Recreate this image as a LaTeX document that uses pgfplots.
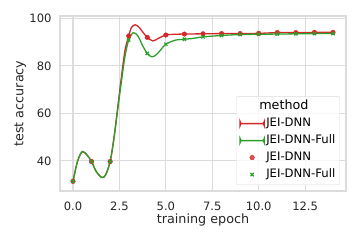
\documentclass[border=0pt]{standalone}
\usepackage{pgfplots}
\pgfplotsset{compat=1.18}
\usepackage{fontspec}
\setmainfont{DejaVu Sans}
\definecolor{tred}{HTML}{D62728}
\definecolor{tgreen}{HTML}{2CA02C}
\definecolor{gridc}{HTML}{DCDCDC}
\definecolor{txt}{HTML}{262626}
\pgfplotsset{
  marklegend/.style={legend image code/.code={\draw[mark repeat=2,mark phase=2,##1] plot coordinates {(0bp,0bp)(12bp,0bp)(24bp,0bp)};}},
}
\begin{document}
\begin{tikzpicture}
\path[use as bounding box] (-60bp,-49bp) rectangle (300bp,191bp);
\begin{axis}[
  at={(0,0)}, anchor=south west,
  scale only axis, width=286bp, height=175bp,
  xmin=-0.7, xmax=14.7, ymin=27.3, ymax=101,
  xtick={0,2.5,5,7.5,10,12.5},
  xticklabels={0.0,2.5,5.0,7.5,10.0,12.5},
  ytick={40,60,80,100},
  grid=major,
  major grid style={draw=gridc, line width=1.1bp},
  axis line style={draw=gridc, line width=1.1bp},
  major tick length=0pt,
  tick style={draw=none},
  /pgf/number format/assume math mode=true,
  ticklabel style={text=txt, font=\fontsize{11.6}{13}\selectfont, inner sep=0pt},
  xticklabel style={anchor=north, yshift=-10.7bp},
  yticklabel style={anchor=east, xshift=-8.3bp},
  xlabel={training epoch}, ylabel={test accuracy},
  every axis x label/.style={at={(axis description cs:0.5,0)}, anchor=base, yshift=-32.3bp, text=txt, font=\fontsize{12.8}{14}\selectfont},
  every axis y label/.style={at={(axis description cs:0,0.5)}, xshift=-36.5bp, rotate=90, anchor=base, text=txt, font=\fontsize{12.8}{14}\selectfont},
  legend cell align=left,
  legend style={at={(0.979,0.034)}, anchor=south east, draw=gridc, rounded corners=2bp, fill=white, fill opacity=0.8, text opacity=1, font=\fontsize{11.7}{13}\selectfont, row sep=2.5bp, inner sep=3bp,
    nodes={text height=8.8bp, text depth=2.7bp, inner sep=1.5bp}},
]
\addlegendimage{legend image code/.code={}}
\addlegendentry{\hspace{-7bp}\fontsize{12.8}{14}\selectfont method}
\addplot[color=tred, line width=1.3bp, smooth, tension=0.5, no marks,
  legend image code/.code={\fill[tred, fill opacity=1] (0bp,-0.1bp) rectangle (24bp,0.1bp);}] coordinates {
  (0,31.4) (0.25,40) (0.5,43.9) (0.75,42.5) (1,39.7) (1.25,35.5) (1.55,33.0) (1.75,34) (2,39.7)
  (2.2,49.5) (2.4,62) (2.6,75) (2.8,86.5) (3,92.6) (3.15,96.2) (3.35,97.3) (3.55,96.3) (3.8,93.8)
  (4,92.0) (4.3,90.5) (4.6,91.6) (5,93.0) (5.5,93.3) (6,93.4) (7,93.5) (8,93.6) (9,93.6)
  (10,93.7) (11,94.0) (12,94.0) (13,94.1) (14,94.1)};
\addlegendentry{JEI-DNN}
\addplot[color=tgreen, line width=1.3bp, smooth, tension=0.5, no marks,
  legend image code/.code={\fill[tgreen, fill opacity=1] (0bp,-0.1bp) rectangle (24bp,0.1bp);}] coordinates {
  (0,31.4) (0.25,40) (0.5,43.9) (0.75,42.5) (1,39.7) (1.25,35.5) (1.55,33.0) (1.75,34) (2,39.7)
  (2.2,49) (2.4,61) (2.6,73) (2.8,84) (3,90.9) (3.25,94.0) (3.5,92.5) (3.75,88.5) (4,85.2)
  (4.25,83.8) (4.5,84.8) (4.75,87) (5,89.1) (5.5,90.8) (6,91.2) (6.5,91.6) (7,92.2) (8,92.8)
  (9,93.2) (10,93.3) (11,93.4) (12,93.5) (13,93.6) (14,93.6)};
\addlegendentry{JEI-DNN-Full}
\addplot[only marks, mark=*, mark size=2.3bp, draw=tred, fill=tred, marklegend] coordinates {
  (0,31.4) (1,39.7) (2,39.7) (3,92.6) (4,92.0) (5,93.0) (6,93.4) (7,93.5) (8,93.6) (9,93.6)
  (10,93.7) (11,94.0) (12,94.0) (13,94.1) (14,94.1)};
\addlegendentry{JEI-DNN}
\addplot[only marks, mark=x, mark size=2.3bp, line width=1.2bp, draw=tgreen, marklegend] coordinates {
  (0,31.4) (1,39.7) (2,39.7) (3,90.9) (4,85.2) (5,89.1) (6,91.2) (7,92.2) (8,92.8) (9,93.2)
  (10,93.3) (11,93.4) (12,93.5) (13,93.6) (14,93.6)};
\addlegendentry{JEI-DNN-Full}
\end{axis}
\end{tikzpicture}
\end{document}
